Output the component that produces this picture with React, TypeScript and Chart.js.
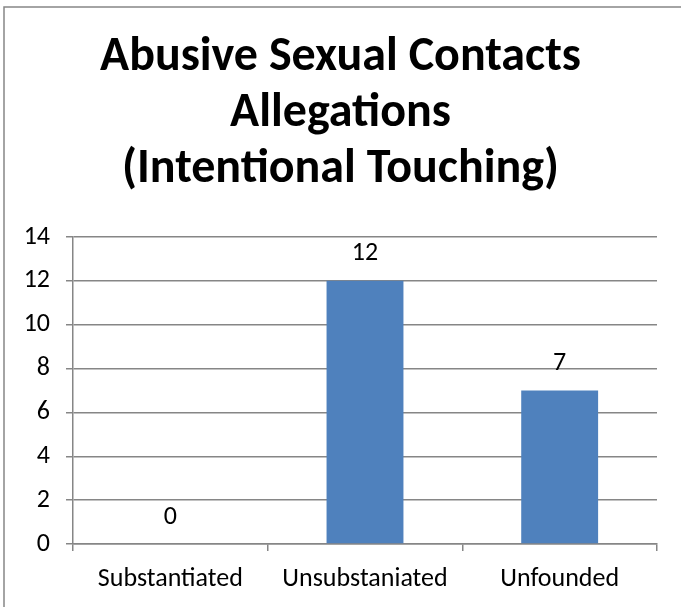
import React, { useEffect, useRef } from 'react';
import { Chart, registerables } from 'chart.js';
Chart.register(...registerables);

const categories = ['Substantiated', 'Unsubstaniated', 'Unfounded'];
const values = [0, 12, 7];
const titleLines = ['Abusive Sexual Contacts', 'Allegations', '(Intentional Touching)'];
const yTicks = { min: 0, max: 14, step: 2 };

const FONT = 'Carlito, Calibri, Lato, sans-serif';
const GRID = '#868686';
const BAR = '#4F81BD';
const TICK_SIZE = 26;

const borderPlugin = {
  id: 'outerBorder',
  beforeDraw(chart: any) {
    const ctx = chart.ctx;
    ctx.save();
    ctx.fillStyle = '#ffffff';
    ctx.fillRect(0, 0, chart.width, chart.height);
    ctx.strokeStyle = GRID;
    ctx.lineWidth = 1.5;
    ctx.strokeRect(4, 7, chart.width + 20, chart.height + 20);
    ctx.restore();
  },
};

const labelPlugin = {
  id: 'barLabels',
  afterDatasetsDraw(chart: any) {
    const ctx = chart.ctx;
    const meta = chart.getDatasetMeta(0);
    ctx.save();
    ctx.font = `${TICK_SIZE}px ${FONT}`;
    ctx.fillStyle = '#000';
    ctx.textAlign = 'center';
    ctx.textBaseline = 'middle';
    meta.data.forEach((bar: any, i: number) => {
      ctx.fillText(String(values[i]), bar.x, bar.y - 27);
    });
    ctx.restore();
  },
};

export default function App() {
  const ref = useRef<HTMLCanvasElement>(null);
  useEffect(() => {
    const chart = new Chart(ref.current!, {
      type: 'bar',
      data: {
        labels: categories,
        datasets: [
          {
            data: values,
            backgroundColor: BAR,
            categoryPercentage: 1,
            barPercentage: 0.395,
          },
        ],
      },
      options: {
        animation: false,
        responsive: false,
        layout: { padding: 0 },
        plugins: {
          legend: { display: false },
          tooltip: { enabled: false },
          title: {
            display: true,
            text: titleLines,
            color: '#000',
            font: { family: FONT, size: 48, weight: 'bold', lineHeight: '56px' as any },
            padding: { top: 30, bottom: 39 },
          },
        },
        scales: {
          x: {
            grid: { offset: true, drawOnChartArea: false, tickLength: 7, color: GRID, lineWidth: 1.5 },
            border: { color: GRID, width: 1.5 },
            ticks: { color: '#000', font: { family: FONT, size: TICK_SIZE }, padding: 13 },
            afterFit: (s: any) => { s.height = 63; },
          },
          y: {
            min: yTicks.min,
            max: yTicks.max,
            ticks: { stepSize: yTicks.step, color: '#000', font: { family: FONT, size: TICK_SIZE }, padding: 16 },
            grid: { tickLength: 7, color: GRID, lineWidth: 1.5 },
            border: { color: GRID, width: 1.5 },
            afterFit: (s: any) => { s.width = 73; },
          },
          spacer: {
            type: 'linear',
            position: 'right',
            display: true,
            grid: { display: false, drawTicks: false },
            border: { display: false },
            ticks: { display: false },
            afterFit: (s: any) => { s.width = 24; },
          },
        },
      },
      plugins: [borderPlugin, labelPlugin],
    });
    return () => chart.destroy();
  }, []);
  return (
    <div style={{ position: 'absolute', left: 0, top: 0, width: 681, height: 607 }}>
      <canvas ref={ref} width={681} height={607} />
    </div>
  );
}
